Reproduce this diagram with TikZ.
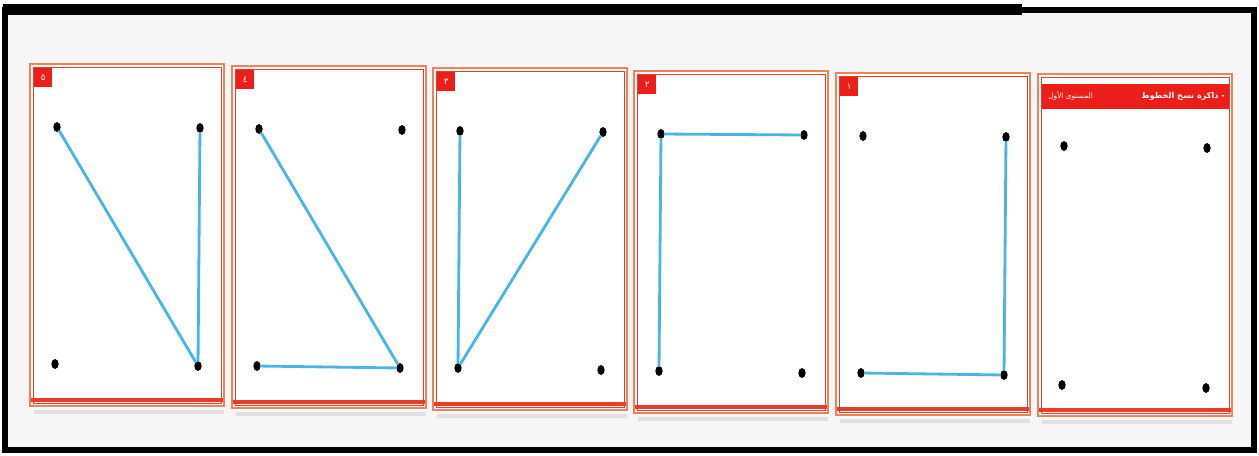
\documentclass[tikz,border=0pt]{standalone}
\usepackage{fontspec}
\newfontfamily\arabicfont[Script=Arabic]{DejaVu Sans}
\TeXXeTstate=1
\definecolor{cardline}{RGB}{240,130,90}
\definecolor{cardred}{RGB}{232,60,40}
\definecolor{tagred}{RGB}{235,30,25}
\definecolor{lineblue}{RGB}{75,180,228}
\definecolor{paper}{RGB}{246,246,246}
\usetikzlibrary{positioning, shapes.geometric}

\begin{document}
\begin{tikzpicture}[
  x=0.02cm, y=-0.02cm,
  card/.style={draw=cardline, line width=1.2pt, fill=white},
  cardin/.style={draw=cardred, line width=0.5pt},
  tag/.style={fill=tagred, minimum width=10pt, minimum height=10.5pt, inner sep=0pt,
              text=white, font=\arabicfont\fontsize{5}{6}\selectfont, anchor=north west},
  dot/.style={ellipse, fill=black, minimum width=4.2pt, minimum height=5.6pt, inner sep=0pt},
  link/.style={lineblue, line width=1.6pt, line cap=round},
  hdr/.style={text=white, font=\arabicfont\bfseries\fontsize{4.6}{6}\selectfont, inner sep=0pt}
]
\useasboundingbox (0,0) rectangle (1259,456);
\fill[white] (0,0) rectangle (1259,456);
\fill[paper] (6,12) rectangle (1252,448);
\draw[black, line width=3.4pt] (5,10) rectangle (1254,450);
\fill[black] (3,4) rectangle (1022,15);

% Cards with four dots each
\foreach \n/\num/\x/\y in {5/٥/30/64, 4/٤/232/66, 3/٣/433/68, 2/٢/634/71, 1/١/836/73, 0//1038/74} {
  \fill[black!12] (\x+4,\y+346) rectangle (\x+194,\y+350);
  \draw[card] (\x,\y) rectangle (\x+194,\y+342);
  \draw[cardin] (\x+3,\y+3) rectangle (\x+191,\y+339);
  \fill[cardred] (\x+1,\y+334) rectangle (\x+193,\y+338);
}

\foreach \n/\num/\x/\y in {5/٥/30/64, 4/٤/232/66, 3/٣/433/68, 2/٢/634/71, 1/١/836/73} {
  \node[tag] (t\n) at (\x+4,\y+4) {\num};
  \node[dot] (c\n tl) at (\x+27,\y+63) {};
  \node[dot] (c\n tr) at (\x+170,\y+64) {};
  \node[dot] (c\n bl) at (\x+25,\y+300) {};
  \node[dot] (c\n br) at (\x+168,\y+302) {};
}

% title card
\fill[tagred] (1042,84) rectangle (1229,109);
\node[hdr, anchor=east] (title) at (1225,96) {\beginR - ذاكرة نسخ الخطوط\endR};
\node[hdr, anchor=west, font=\arabicfont\fontsize{4.2}{5}\selectfont] (level) at (1048,96) {\beginR المستوى الأول\endR};
\node[dot] (c0tl) at (1064,146) {};
\node[dot] (c0tr) at (1207,148) {};
\node[dot] (c0bl) at (1062,385) {};
\node[dot] (c0br) at (1206,388) {};

% copied lines
\draw[link] (c5tl) -- (c5br);
\draw[link] (c5tr) -- (c5br);
\draw[link] (c4tl) -- (c4br);
\draw[link] (c4bl) -- (c4br);
\draw[link] (c3tl) -- (c3bl);
\draw[link] (c3bl) -- (c3tr);
\draw[link] (c2tl) -- (c2bl);
\draw[link] (c2tl) -- (c2tr);
\draw[link] (c1tr) -- (c1br);
\draw[link] (c1bl) -- (c1br);
\end{tikzpicture}
\end{document}
